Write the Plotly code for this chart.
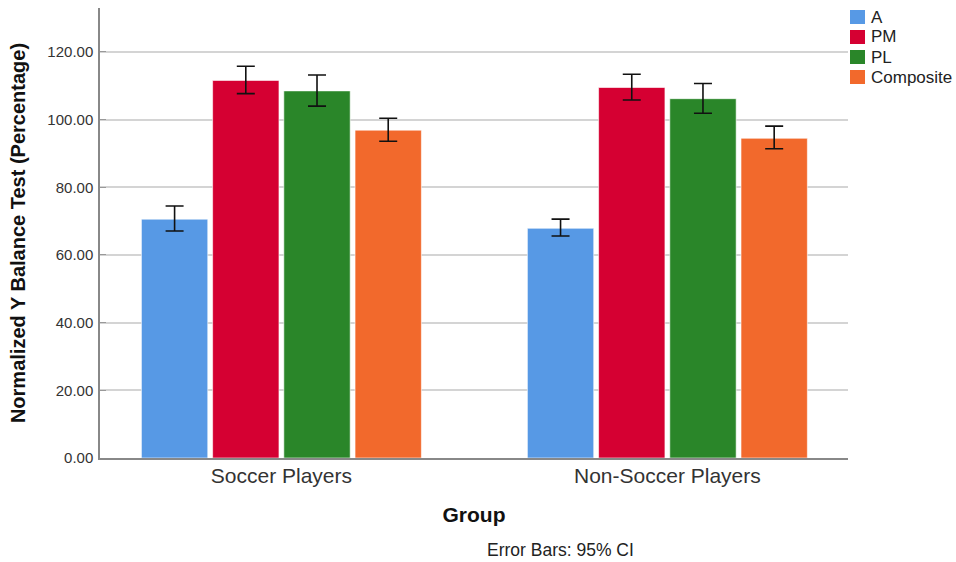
import plotly.graph_objects as go

groups = ["Soccer Players", "Non-Soccer Players"]
measures = ["A", "PM", "PL", "Composite"]
colors = ["#5799E5", "#D50032", "#2A8629", "#F2692C"]

# Mean normalized reach (%) per measure, ordered as in `groups`
mean_A = [70.6, 67.9]
mean_PM = [111.6, 109.5]
mean_PL = [108.5, 106.2]
mean_Composite = [96.9, 94.5]

# 95% CI bounds
upper_A = [74.5, 70.6]
lower_A = [67.1, 65.6]
upper_PM = [115.8, 113.4]
lower_PM = [107.7, 105.8]
upper_PL = [113.2, 110.7]
lower_PL = [104.0, 101.9]
upper_Composite = [100.4, 98.1]
lower_Composite = [93.6, 91.4]

means = [mean_A, mean_PM, mean_PL, mean_Composite]
uppers = [upper_A, upper_PM, upper_PL, upper_Composite]
lowers = [lower_A, lower_PM, lower_PL, lower_Composite]

xpos = list(range(len(groups)))

fig = go.Figure()
for name, col, m, up, lo in zip(measures, colors, means, uppers, lowers):
    fig.add_trace(go.Bar(
        x=xpos, y=m, name=name, showlegend=False,
        marker=dict(color=col, line=dict(color="rgba(255,255,255,0.6)", width=1)),
        error_y=dict(type="data", symmetric=False,
                     array=[u - v for u, v in zip(up, m)],
                     arrayminus=[v - l for v, l in zip(m, lo)],
                     color="#111111", thickness=1.6, width=9),
    ))

font_family = "Liberation Sans, Arial, sans-serif"

W, H = 956, 562
ML, MR, MT, MB = 100, 108, 8, 104
PW, PH = W - ML - MR, H - MT - MB


def px_to_paper(px, py):
    return (px - ML) / PW, (H - MB - py) / PH


# Compact legend in the top-right corner: coloured squares with labels
shapes = []
annotations = []
for i, (name, col) in enumerate(zip(measures, colors)):
    cy = 17 + 20 * i
    x0, y0 = px_to_paper(850, cy + 7)
    x1, y1 = px_to_paper(865, cy - 7)
    shapes.append(dict(type="rect", xref="paper", yref="paper",
                       x0=x0, y0=y0, x1=x1, y1=y1,
                       fillcolor=col, line=dict(width=0)))
    tx, ty = px_to_paper(869, cy)
    annotations.append(dict(text=name, xref="paper", yref="paper",
                            x=tx, y=ty, xanchor="left", yanchor="middle",
                            showarrow=False,
                            font=dict(size=17, color="#222222")))

ex, ey = px_to_paper(560, 562)
annotations.append(dict(
    text="Error Bars: 95% CI", xref="paper", yref="paper",
    x=ex, y=ey, xanchor="center", yanchor="bottom",
    showarrow=False, font=dict(size=17.5, color="#222222"),
))

fig.update_layout(
    width=W, height=H,
    margin=dict(l=ML, r=MR, t=MT, b=MB),
    paper_bgcolor="white", plot_bgcolor="white",
    barmode="group", bargap=0.262, bargroupgap=0.068,
    font=dict(family=font_family, color="#222222"),
    showlegend=False,
    xaxis=dict(
        range=[-0.470, 1.468],
        tickmode="array", tickvals=xpos, ticktext=groups,
        tickfont=dict(size=21, color="#333333"),
        showgrid=False, zeroline=False,
        showline=True, linecolor="#888888", linewidth=1.5,
        ticks="", ticklabelstandoff=-2,
        title=dict(text="<b>Group</b>", font=dict(size=21, color="#111111"), standoff=21),
    ),
    yaxis=dict(
        range=[0, 133],
        tickvals=[0, 20, 40, 60, 80, 100, 120],
        tickformat=".2f",
        tickfont=dict(size=15, color="#333333"),
        showgrid=True, gridcolor="#D4D4D4", gridwidth=1.5,
        zeroline=False,
        showline=True, linecolor="#888888", linewidth=1.5,
        ticks="inside", ticklen=6, tickcolor="#999999",
        ticklabelstandoff=2,
        title=dict(text="<b>Normalized Y Balance Test (Percentage)</b>",
                   font=dict(size=20, color="#111111"), standoff=16),
    ),
    shapes=shapes,
    annotations=annotations,
)

fig.write_html("out.html")
